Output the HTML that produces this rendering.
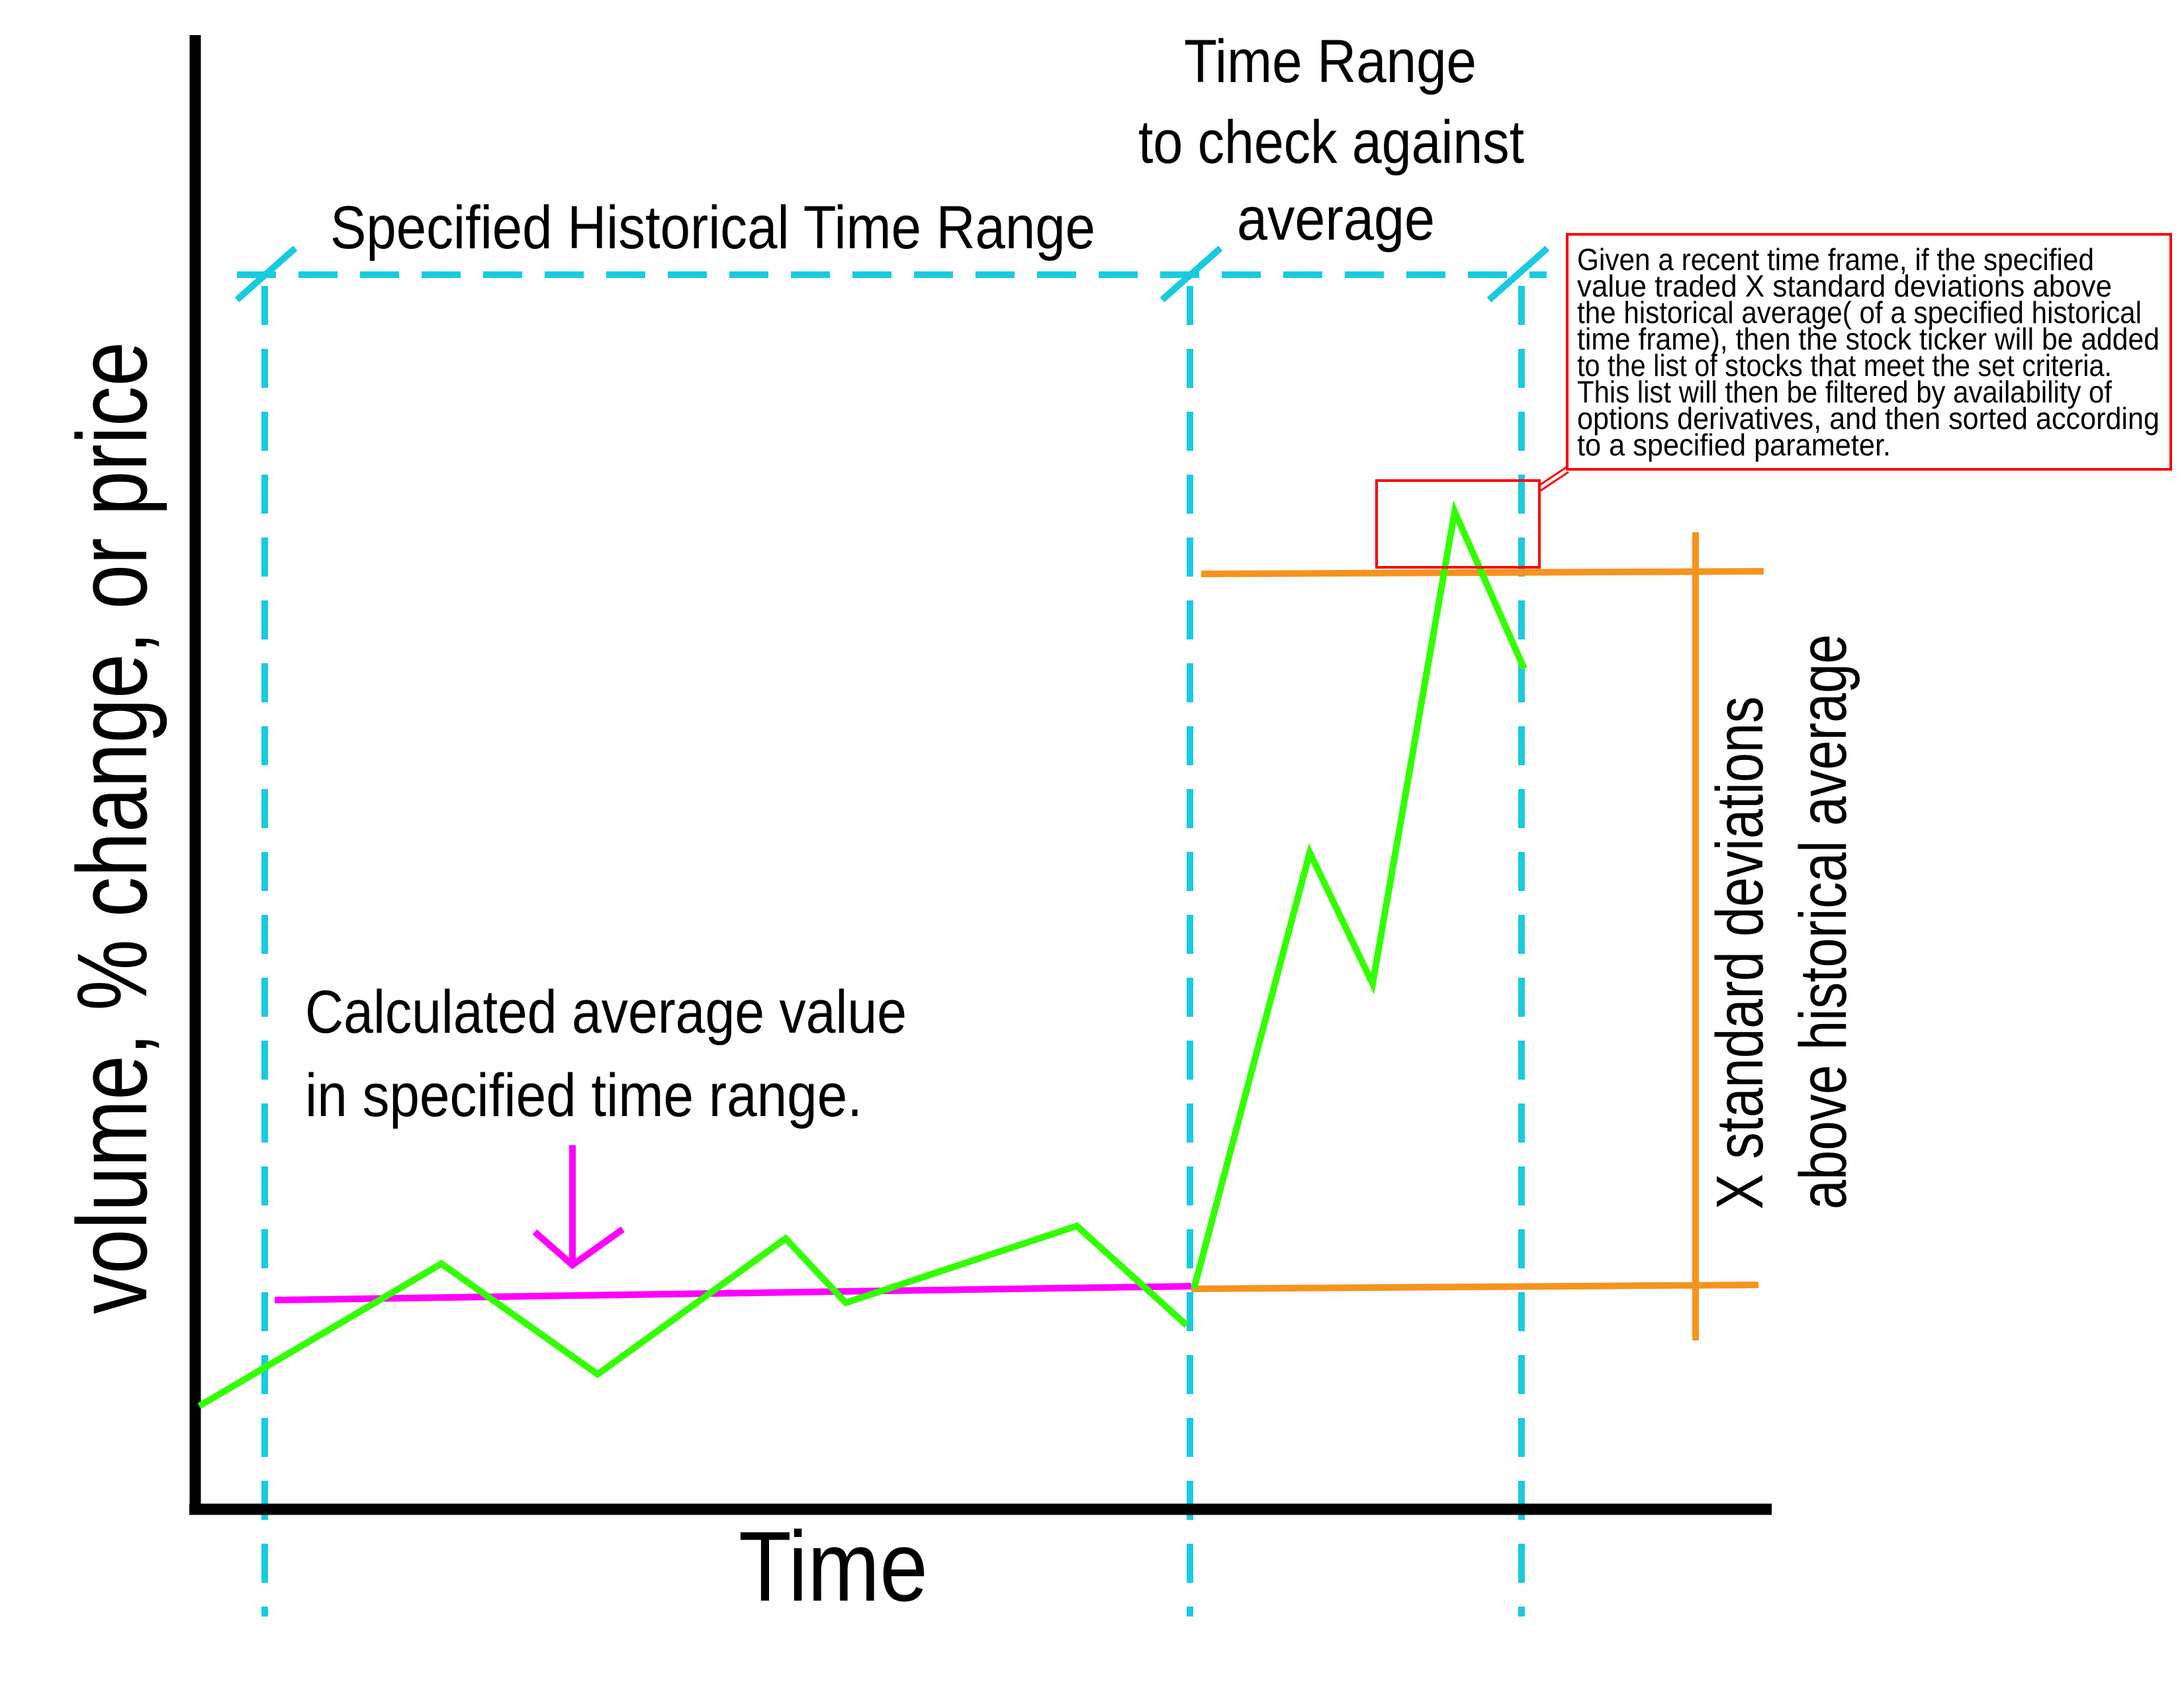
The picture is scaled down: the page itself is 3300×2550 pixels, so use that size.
<!DOCTYPE html>
<html><head><meta charset="utf-8"><style>
html,body{margin:0;padding:0;background:#fff;}
svg{display:block;font-family:"Liberation Sans",sans-serif;}
</style></head><body>
<svg id="chart" width="3300" height="2550" viewBox="0 0 3300 2550" xmlns="http://www.w3.org/2000/svg">
<rect width="3300" height="2550" fill="#fff"/>
<g id="guides">
  <line x1="358" y1="415" x2="2337" y2="415" stroke="#19cbe0" stroke-width="10" stroke-dasharray="59,34"/>
  <line x1="400" y1="432" x2="400" y2="2442" stroke="#19cbe0" stroke-width="10" stroke-dasharray="59,36"/>
  <line x1="1798" y1="432" x2="1798" y2="2442" stroke="#19cbe0" stroke-width="10" stroke-dasharray="59,36"/>
  <line x1="2299" y1="432" x2="2299" y2="2442" stroke="#19cbe0" stroke-width="10" stroke-dasharray="59,36"/>
  <line x1="358" y1="453" x2="446" y2="375" stroke="#19cbe0" stroke-width="10"/>
  <line x1="1756" y1="453" x2="1844" y2="375" stroke="#19cbe0" stroke-width="10"/>
  <line x1="2250" y1="453" x2="2338" y2="375" stroke="#19cbe0" stroke-width="10"/>
</g>
<g>
  <line x1="295" y1="53" x2="295" y2="2288" stroke="#000" stroke-width="17"/>
  <line x1="286" y1="2280" x2="2677" y2="2280" stroke="#000" stroke-width="17"/>
</g>
<g>
  <line x1="1815" y1="867" x2="2665" y2="863" stroke="#f7931e" stroke-width="10"/>
  <line x1="1800" y1="1947" x2="2657" y2="1941" stroke="#f7931e" stroke-width="10"/>
  <line x1="2562" y1="804" x2="2562" y2="2025" stroke="#f7931e" stroke-width="10"/>
</g>
<line x1="415" y1="1964" x2="1800" y2="1943" stroke="#ff00ff" stroke-width="10"/>
<g>
  <line x1="865" y1="1730" x2="865" y2="1905" stroke="#ff00ff" stroke-width="10"/>
  <polyline points="808,1861 865,1911 941,1857" fill="none" stroke="#ff00ff" stroke-width="10"/>
</g>
<g id="series"></g>
<g>
  <rect x="2080" y="726" width="246" height="131" fill="none" stroke="#ff0000" stroke-width="4"/>
  <line x1="2326" y1="733" x2="2368" y2="705" stroke="#ff0000" stroke-width="3"/>
  <line x1="2328" y1="741" x2="2370" y2="713" stroke="#ff0000" stroke-width="3"/>
  <rect x="2368" y="354" width="912" height="355" fill="#fff" stroke="#ff0000" stroke-width="4"/>
  <g font-size="46" fill="#000">
    <text x="2383" y="408" textLength="781" lengthAdjust="spacingAndGlyphs">Given a recent time frame, if the specified</text>
    <text x="2383" y="448" textLength="808" lengthAdjust="spacingAndGlyphs">value  traded  X standard deviations above</text>
    <text x="2383" y="488" textLength="853" lengthAdjust="spacingAndGlyphs">the historical average( of a specified historical</text>
    <text x="2383" y="528" textLength="880" lengthAdjust="spacingAndGlyphs">time frame), then the stock ticker will be added</text>
    <text x="2383" y="568" textLength="808" lengthAdjust="spacingAndGlyphs">to the list of stocks that meet the set criteria.</text>
    <text x="2383" y="608" textLength="808" lengthAdjust="spacingAndGlyphs">This list will then be filtered by availability of</text>
    <text x="2383" y="648" textLength="880" lengthAdjust="spacingAndGlyphs">options derivatives, and then sorted according</text>
    <text x="2383" y="688" textLength="474" lengthAdjust="spacingAndGlyphs">to a specified parameter.</text>
  </g>
</g>
<g fill="#000">
  <text x="499" y="375" font-size="92" textLength="1156" lengthAdjust="spacingAndGlyphs">Specified  Historical Time Range</text>
  <text x="1789" y="124" font-size="92" textLength="442" lengthAdjust="spacingAndGlyphs">Time Range</text>
  <text x="1720" y="246" font-size="92" textLength="583" lengthAdjust="spacingAndGlyphs">to check against</text>
  <text x="1869" y="362" font-size="92" textLength="299" lengthAdjust="spacingAndGlyphs">average</text>
  <text x="461" y="1560" font-size="92" textLength="909" lengthAdjust="spacingAndGlyphs">Calculated average value</text>
  <text x="461" y="1686" font-size="92" textLength="842" lengthAdjust="spacingAndGlyphs">in specified time range.</text>
  <text x="1116" y="2418" font-size="150" textLength="286" lengthAdjust="spacingAndGlyphs">Time</text>
  <text transform="translate(221,1985) rotate(-90)" font-size="150" textLength="1469" lengthAdjust="spacingAndGlyphs">volume, % change, or price</text>
  <text transform="translate(2663,1827) rotate(-90)" font-size="100" textLength="775" lengthAdjust="spacingAndGlyphs">X standard deviations</text>
  <text transform="translate(2789,1827) rotate(-90)" font-size="100" textLength="869" lengthAdjust="spacingAndGlyphs">above historical average</text>
</g>
</svg>
<script>
const historicalTimes = [0.6, 37.2, 60.8, 89.2, 98.3, 133.2, 149.8];
const historicalValues = [15.6, 37.1, 20.4, 40.9, 31.2, 42.8, 27.8];
const recentTimes = [150.9, 168.4, 177.9, 190.3, 200.8];
const recentValues = [33.3, 99.2, 79.4, 150.7, 127.0];

function xScale(t){ return 295 + t * 10; }
function yScale(v){ return 2280 - v * 10; }

const ns = 'http://www.w3.org/2000/svg';
const g = document.getElementById('series');
function draw(ts, vs, name){
  const pl = document.createElementNS(ns, 'polyline');
  pl.setAttribute('points', ts.map((t,i)=> xScale(t)+','+yScale(vs[i])).join(' '));
  pl.setAttribute('fill', 'none');
  pl.setAttribute('stroke', '#33ff00');
  pl.setAttribute('stroke-width', '10');
  pl.setAttribute('stroke-linejoin', 'miter');
  
  
  g.appendChild(pl);
}
draw(historicalTimes, historicalValues, 'historical-series-line');
draw(recentTimes, recentValues, 'recent-series-line');
</script>
</body></html>
